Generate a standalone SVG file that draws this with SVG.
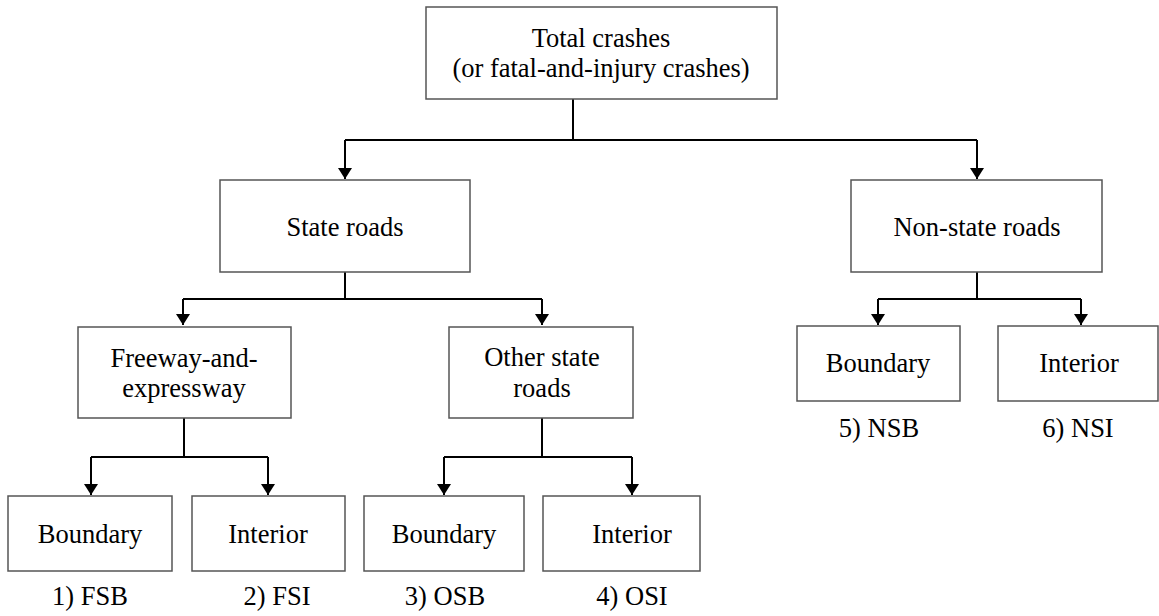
<svg xmlns="http://www.w3.org/2000/svg" width="1159" height="616" viewBox="0 0 1159 616">
<defs>
<style>
.box{fill:#fff;stroke:#555;stroke-width:1.5}
.t{font-family:'Liberation Serif','Times New Roman',serif;font-size:26.5px;fill:#000;text-anchor:middle}
.c{fill:none;stroke:#000;stroke-width:2}
.a{fill:none;stroke:#000;stroke-width:2;marker-end:url(#arr)}
</style>
<marker id="arr" markerUnits="userSpaceOnUse" markerWidth="11" markerHeight="14" viewBox="0 0 11 14" refX="11" refY="7" orient="auto">
<path d="M0,0 L11,7 L0,14 Z" fill="#000"/>
</marker>
</defs>
<rect width="1159" height="616" fill="#fff"/>
<g id="connectors">
<path class="c" d="M573,99 V140 M345,140 H977"/>
<path class="a" d="M345,140 V179"/>
<path class="a" d="M977,140 V179"/>
<path class="c" d="M345,272 V299 M183,299 H542"/>
<path class="a" d="M183,299 V325"/>
<path class="a" d="M542,299 V325"/>
<path class="c" d="M184,418 V457 M91,457 H268"/>
<path class="a" d="M91,457 V495"/>
<path class="a" d="M268,457 V495"/>
<path class="c" d="M542,418 V457 M444,457 H632"/>
<path class="a" d="M444,457 V495"/>
<path class="a" d="M632,457 V495"/>
<path class="c" d="M977,272 V299 M878,299 H1081"/>
<path class="a" d="M878,299 V325"/>
<path class="a" d="M1081,299 V325"/>
</g>
<g id="total">
<rect class="box" x="426" y="7" width="351" height="92"/>
<text class="t" x="601" y="47" font-family="Liberation Serif">Total crashes</text>
<text class="t" x="601" y="77">(or fatal-and-injury crashes)</text>
</g>
<g id="state">
<rect class="box" x="220" y="180" width="250" height="92"/>
<text class="t" x="345" y="236">State roads</text>
</g>
<g id="nonstate">
<rect class="box" x="851" y="180" width="251" height="92"/>
<text class="t" x="977" y="236">Non-state roads</text>
</g>
<g id="freeway">
<rect class="box" x="78" y="327" width="213" height="91"/>
<text class="t" x="184" y="367">Freeway-and-</text>
<text class="t" x="184" y="397">expressway</text>
</g>
<g id="other">
<rect class="box" x="449" y="327" width="184" height="91"/>
<text class="t" x="542" y="366">Other state</text>
<text class="t" x="542" y="397">roads</text>
</g>
<g id="fsb">
<rect class="box" x="8" y="496" width="164" height="75"/>
<text class="t" x="90" y="543">Boundary</text>
<text class="t" x="90" y="605">1) FSB</text>
</g>
<g id="fsi">
<rect class="box" x="192" y="496" width="153" height="75"/>
<text class="t" x="268" y="543">Interior</text>
<text class="t" x="277" y="605">2) FSI</text>
</g>
<g id="osb">
<rect class="box" x="364" y="496" width="160" height="75"/>
<text class="t" x="444" y="543">Boundary</text>
<text class="t" x="445" y="605">3) OSB</text>
</g>
<g id="osi">
<rect class="box" x="543" y="496" width="157" height="75"/>
<text class="t" x="632" y="543">Interior</text>
<text class="t" x="632" y="605">4) OSI</text>
</g>
<g id="nsb">
<rect class="box" x="797" y="326" width="163" height="75"/>
<text class="t" x="878" y="372">Boundary</text>
<text class="t" x="879" y="437">5) NSB</text>
</g>
<g id="nsi">
<rect class="box" x="998" y="326" width="160" height="75"/>
<text class="t" x="1079" y="372">Interior</text>
<text class="t" x="1078" y="437">6) NSI</text>
</g>
</svg>
